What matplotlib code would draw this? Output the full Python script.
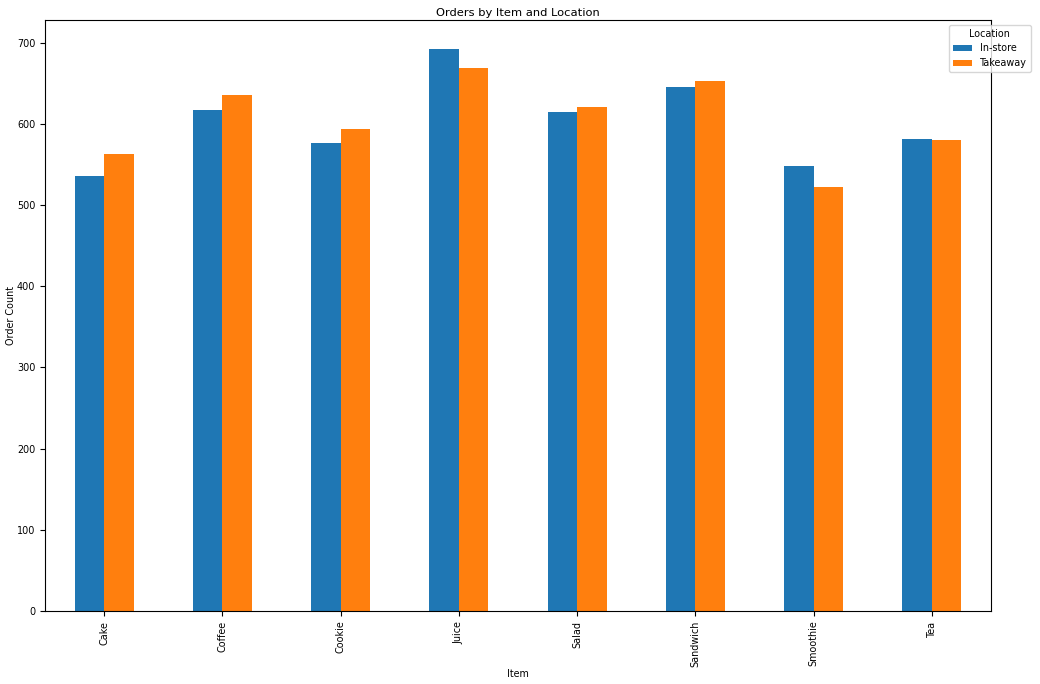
''' Orders by item and location, grouped bars '''

import numpy as np
import matplotlib
matplotlib.use('Agg')
import matplotlib.pyplot as plt

items = ['Cake', 'Coffee', 'Cookie', 'Juice', 'Salad', 'Sandwich', 'Smoothie', 'Tea']
in_store = [536, 617, 576, 692, 615, 646, 548, 582]
takeaway = [563, 636, 594, 669, 621, 653, 522, 580]
locations = ['In-store', 'Takeaway']

FS = 6.9
plt.rcParams['font.size'] = FS

fig = plt.figure(figsize=(10.4, 6.84), dpi=100)
ax = fig.add_axes([0.0433, 0.1067, 0.9096, 0.864])

x = np.arange(len(items))
w = 0.25
ax.bar(x - w / 2, in_store, w, color='#1f77b4', label=locations[0])
ax.bar(x + w / 2, takeaway, w, color='#ff7f0e', label=locations[1])

ax.set_xlim(-0.5, len(items) - 0.5)
ax.set_xticks(x)
ax.set_xticklabels(items, rotation=90)
ax.set_ylim(0, 728)
ax.set_yticks(range(0, 701, 100))

ax.set_title('Orders by Item and Location', fontsize=FS * 1.2, pad=3)
ax.set_xlabel('Item', labelpad=1.5)
ax.set_ylabel('Order Count', labelpad=0.5)
ax.legend(title='Location', loc='upper right', bbox_to_anchor=(1.047, 1))

fig.savefig('out.png', dpi=100)
